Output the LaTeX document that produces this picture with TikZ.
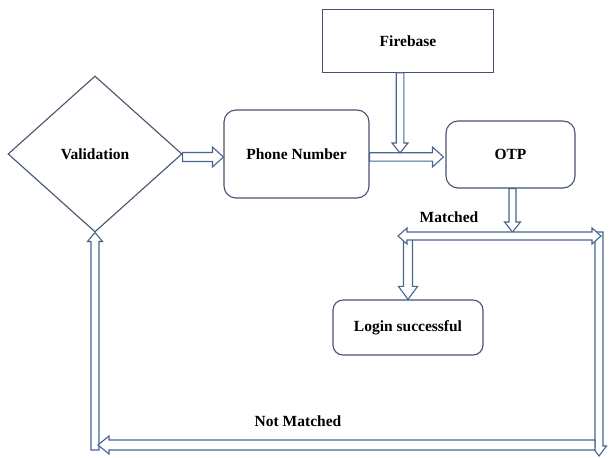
\documentclass[tikz,border=0pt]{standalone}
\usepackage{fontspec}
\setmainfont{Liberation Serif}
\usetikzlibrary{calc,shapes.geometric}
\definecolor{bc}{RGB}{72,100,146}
\definecolor{nc}{RGB}{68,84,112}
\tikzset{
  blkparam/.code args={#1/#2/#3}{\def\blksw{#1}\def\blkhw{#2}\def\blkhl{#3}},
  blkbase/.style={draw=bc, line width=1.1pt, fill=white, line join=miter},
  blk/.style={blkbase, blkparam={#1},
    to path={let \p1=(\tikztostart), \p2=(\tikztotarget),
      \n1={atan2(\y2-\y1,\x2-\x1)}, \n2={veclen(\x2-\x1,\y2-\y1)} in
      ($(\p1)+({\n1+90}:\blksw)$)
      -- ($(\p1)+(\n1:{\n2-\blkhl})+({\n1+90}:\blksw)$)
      -- ($(\p1)+(\n1:{\n2-\blkhl})+({\n1+90}:\blkhw)$)
      -- (\p2)
      -- ($(\p1)+(\n1:{\n2-\blkhl})+({\n1-90}:\blkhw)$)
      -- ($(\p1)+(\n1:{\n2-\blkhl})+({\n1-90}:\blksw)$)
      -- ($(\p1)+({\n1-90}:\blksw)$) -- cycle}},
  blkb/.style={blkbase, blkparam={#1},
    to path={let \p1=(\tikztostart), \p2=(\tikztotarget),
      \n1={atan2(\y2-\y1,\x2-\x1)}, \n2={veclen(\x2-\x1,\y2-\y1)} in
      (\p1)
      -- ($(\p1)+(\n1:\blkhl)+({\n1+90}:\blkhw)$)
      -- ($(\p1)+(\n1:\blkhl)+({\n1+90}:\blksw)$)
      -- ($(\p1)+(\n1:{\n2-\blkhl})+({\n1+90}:\blksw)$)
      -- ($(\p1)+(\n1:{\n2-\blkhl})+({\n1+90}:\blkhw)$)
      -- (\p2)
      -- ($(\p1)+(\n1:{\n2-\blkhl})+({\n1-90}:\blkhw)$)
      -- ($(\p1)+(\n1:{\n2-\blkhl})+({\n1-90}:\blksw)$)
      -- ($(\p1)+(\n1:\blkhl)+({\n1-90}:\blksw)$)
      -- ($(\p1)+(\n1:\blkhl)+({\n1-90}:\blkhw)$)
      -- cycle}},
  box/.style={draw=nc, line width=1.1pt, fill=white, inner sep=0pt,
    font=\fontsize{15.5}{18}\selectfont\bfseries},
  rbox/.style={box, rounded corners=12pt},
  lbl/.style={font=\fontsize{15.5}{18}\selectfont\bfseries, inner sep=0pt},
}
\begin{document}
\begin{tikzpicture}[x=1pt,y=1pt]
\useasboundingbox (0,0) rectangle (609,457);
\fill[white] (0,0) rectangle (609,457);

% nodes
\node[box, diamond, aspect=1, minimum width=174pt, minimum height=156pt] (val) at (95,303) {Validation};
\node[rbox, minimum width=145pt, minimum height=88pt] (pn) at (296.5,303) {Phone Number};
\node[box, line width=0.9pt, minimum width=171pt, minimum height=63pt] (fb) at (408,416) {Firebase};
\node[rbox, minimum width=129pt, minimum height=67pt] (otp) at (510.5,302.5) {OTP};
\node[rbox, rounded corners=10pt, minimum width=150pt, minimum height=55pt] (login) at (408,129.5) {Login successful};

% free-end coordinates
\coordinate (fbin) at (400,304);
\coordinate (mtop) at (512.5,225);
\coordinate (ml) at (398,221);
\coordinate (mr) at (601,221);
\coordinate (lgs) at (408,221);
\coordinate (rtop) at (599,225);
\coordinate (rbot) at (599,1);
\coordinate (bst) at (595,12);
\coordinate (bend) at (98,12);
\coordinate (lbot) at (95,7);

% connectors
\draw[blk=4.5/10/11] ($(val.east)+(0,-3)$) to ($(pn.west)+(0,-3)$);
\draw[blk=4.2/10/11] ($(pn.east)+(0,-3)$) to ($(otp.west)+(-2,-2.5)$);
\draw[blk=3.8/8/10] ($(fb.south)+(-8,0)$) to (fbin);
\draw[blk=3.5/8/10] ($(otp.south)+(2,0)$) to (mtop);
\draw[blk=4.5/9.5/13] (lgs) to (login.north);
\draw[blk=4/7.5/10] (rtop) to (rbot);
\draw[blkb=4/8/9] (ml) to (mr);
\draw[blk=4/7.5/9] (lbot) to (val.south);
\draw[blk=5/9/11] (bst) to (bend);

% labels
\node[lbl] (lm) at (449,240) {Matched};
\node[lbl] (lnm) at (298,36) {Not Matched};
\end{tikzpicture}
\end{document}
